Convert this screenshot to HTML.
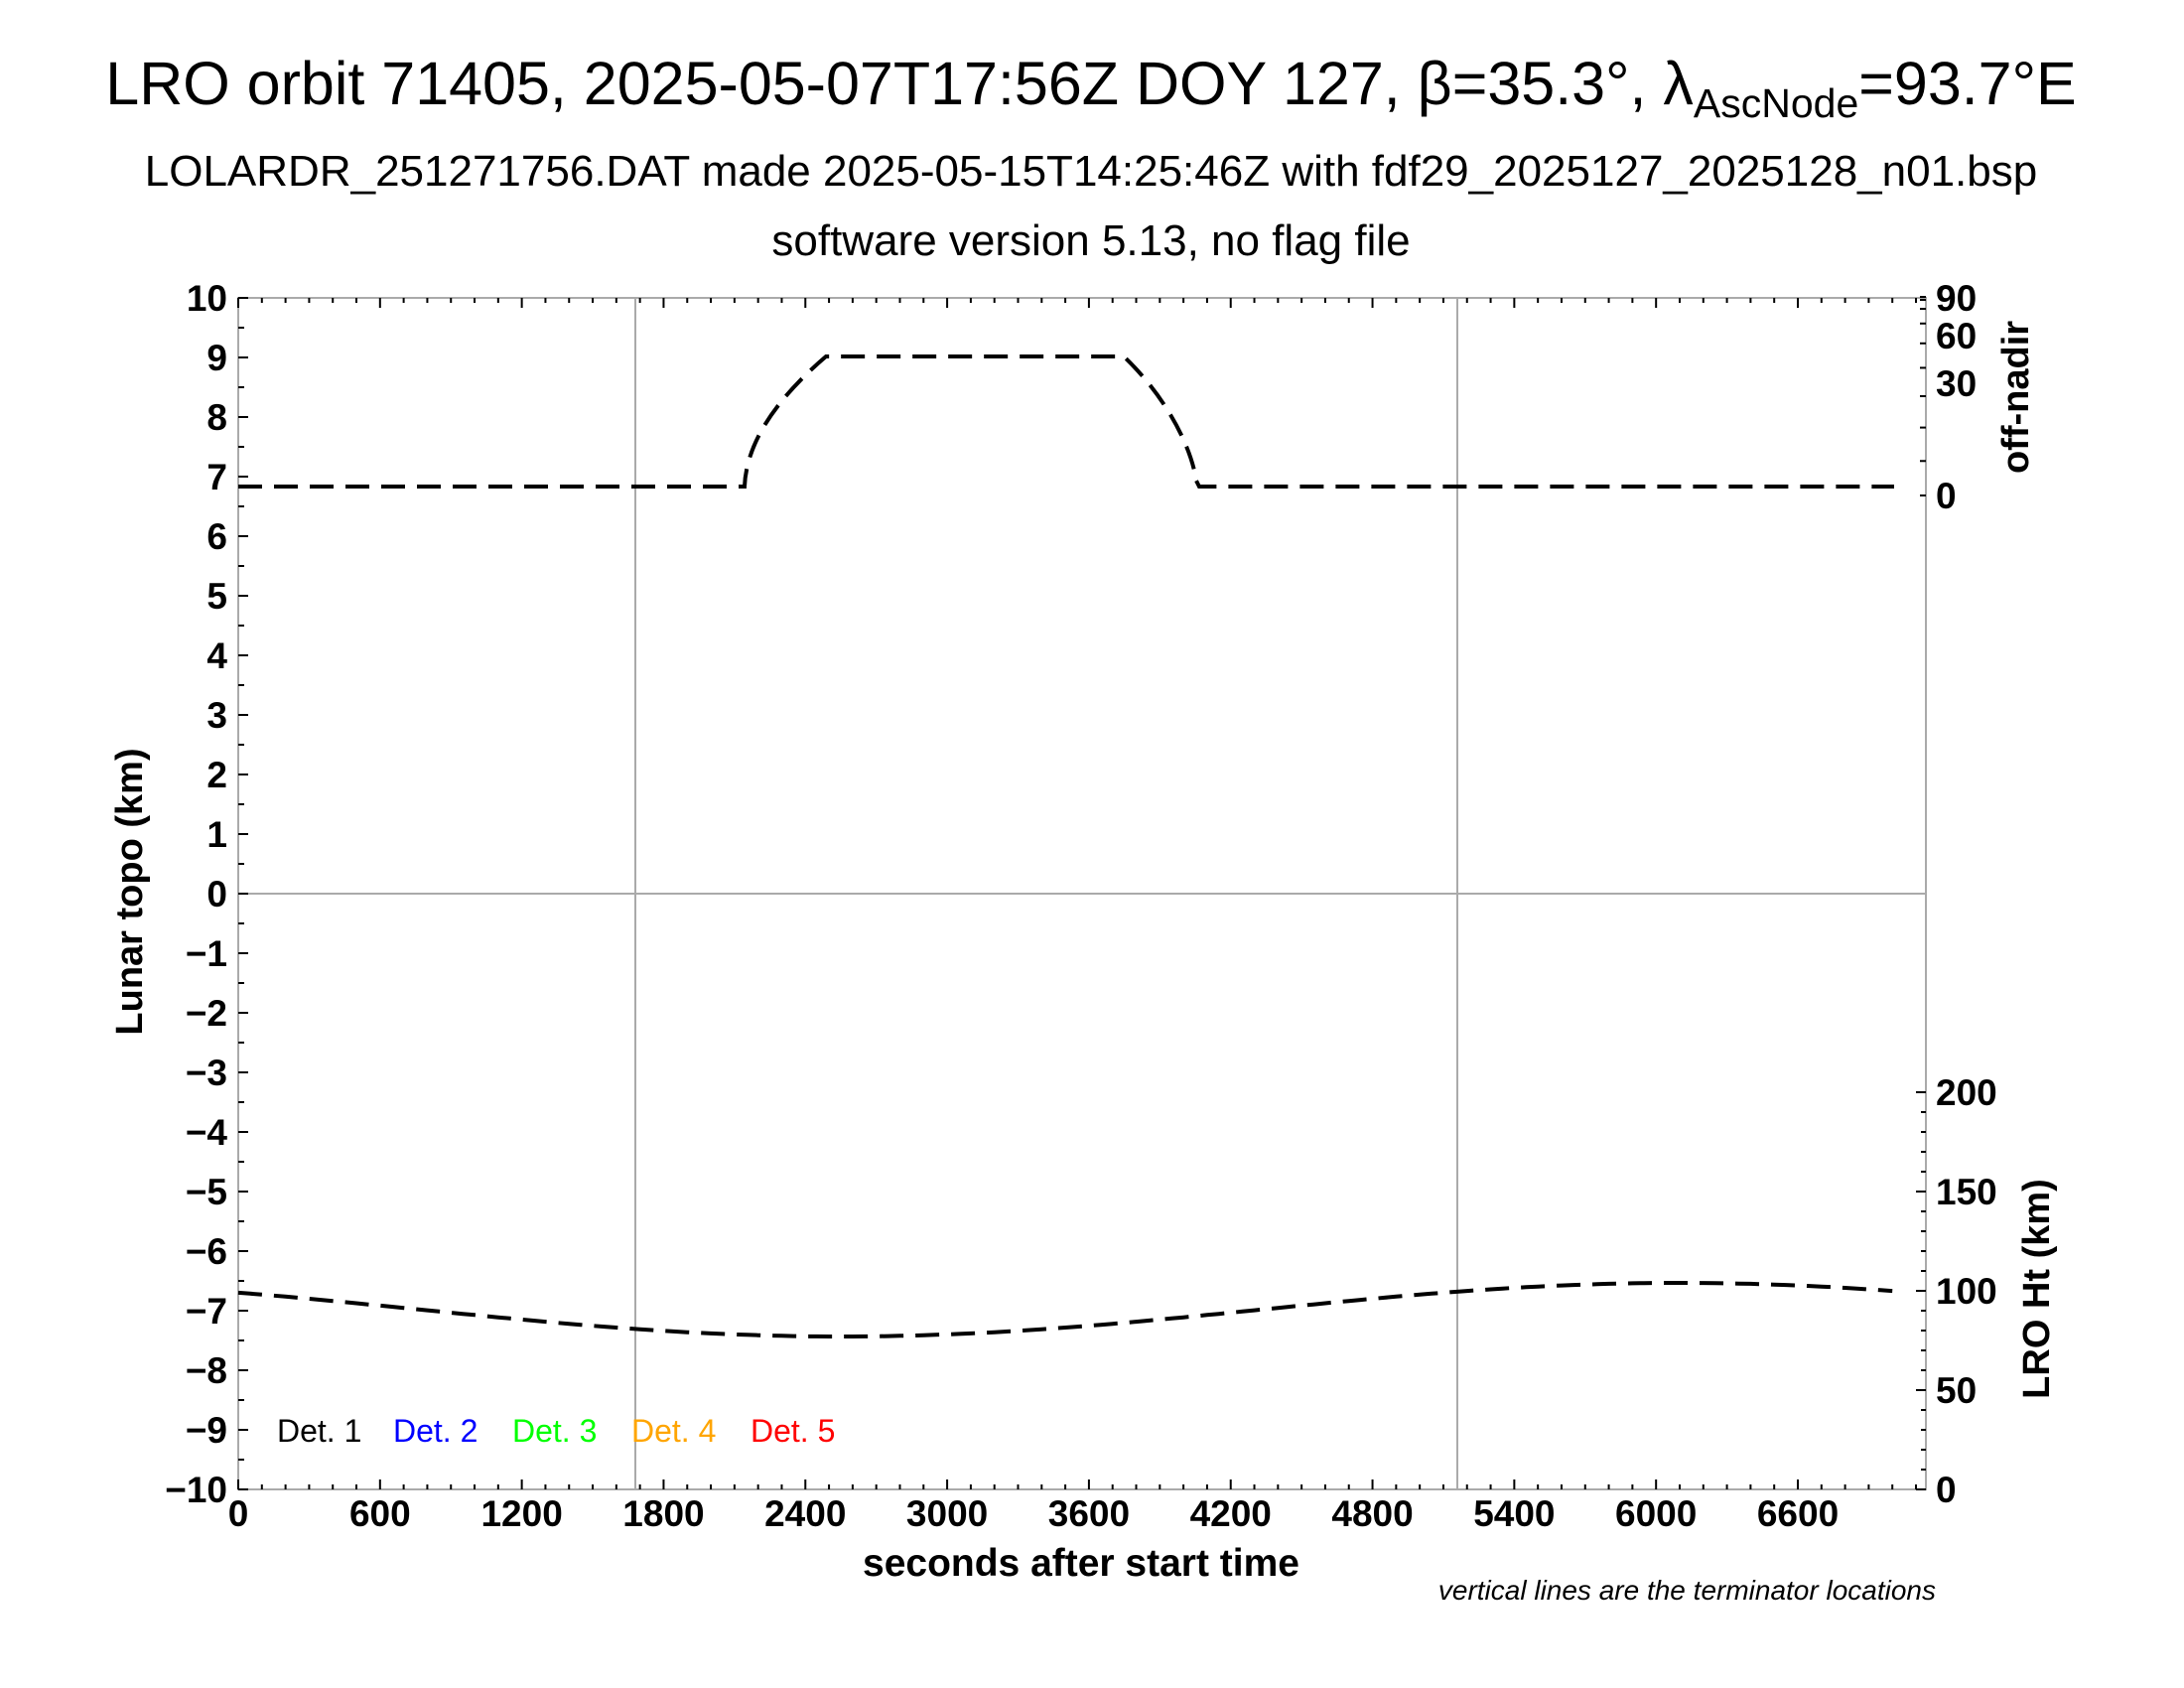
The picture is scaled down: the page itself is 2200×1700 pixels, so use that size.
<!DOCTYPE html>
<html><head><meta charset="utf-8"><style>
html,body{margin:0;padding:0;background:#fff}
svg{display:block}
text{font-family:"Liberation Sans",sans-serif}
</style></head><body>
<svg width="2200" height="1700" viewBox="0 0 2200 1700" xmlns="http://www.w3.org/2000/svg">
<rect width="2200" height="1700" fill="#fff"/>
<text x="1099" y="105" font-size="61" text-anchor="middle">LRO orbit 71405, 2025-05-07T17:56Z DOY 127, β=35.3°, λ<tspan font-size="41" dy="13">AscNode</tspan><tspan dy="-13">=93.7°E</tspan></text>
<text x="1099" y="187" font-size="44" text-anchor="middle">LOLARDR_251271756.DAT made 2025-05-15T14:25:46Z with fdf29_2025127_2025128_n01.bsp</text>
<text x="1099" y="257" font-size="44" text-anchor="middle">software version 5.13, no flag file</text>
<g stroke="#aaa" stroke-width="2" fill="none">
<rect x="240" y="300" width="1700" height="1200"/>
<line x1="640" y1="300" x2="640" y2="1500"/>
<line x1="1468" y1="300" x2="1468" y2="1500"/>
<line x1="240" y1="900" x2="1940" y2="900"/>
</g>
<g id="ticks" stroke="#000" stroke-width="2"></g>
<g font-size="37" font-weight="bold" text-anchor="end" id="ylab"></g>
<g font-size="37" font-weight="bold" text-anchor="middle" id="xlab"></g>
<g font-size="37" font-weight="bold" text-anchor="start">
<text x="1950" y="313">90</text><text x="1950" y="351">60</text><text x="1950" y="399">30</text><text x="1950" y="512">0</text>
<text x="1950" y="1113">200</text><text x="1950" y="1213">150</text><text x="1950" y="1313">100</text><text x="1950" y="1413">50</text><text x="1950" y="1513">0</text>
</g>
<text transform="translate(143,898) rotate(-90)" font-size="38" font-weight="bold" text-anchor="middle">Lunar topo (km)</text>
<text transform="translate(2043,400) rotate(-90)" font-size="38" font-weight="bold" text-anchor="middle">off-nadir</text>
<text transform="translate(2064,1298) rotate(-90)" font-size="38" font-weight="bold" text-anchor="middle">LRO Ht (km)</text>
<text x="1089" y="1587" font-size="39" font-weight="bold" text-anchor="middle">seconds after start time</text>
<text x="1950" y="1611" font-size="28" font-style="italic" text-anchor="end">vertical lines are the terminator locations</text>
<g font-size="32">
<text x="279" y="1452" fill="#000">Det. 1</text>
<text x="396" y="1452" fill="#0000ff">Det. 2</text>
<text x="516" y="1452" fill="#00ff00">Det. 3</text>
<text x="636" y="1452" fill="#ffa500">Det. 4</text>
<text x="756" y="1452" fill="#ff0000">Det. 5</text>
</g>
<path fill="none" stroke="#000" stroke-width="4" stroke-dasharray="24,12"
d="M240,490 L750,490 C752,440 790,395 832,359 L1132,359 C1175,400 1200,450 1205,484 L1208,490 L1908,490"/>
<path id="ht" fill="none" stroke="#000" stroke-width="4" stroke-dasharray="24,12" d=""/>
</svg>
<script>
(function(){
var NS="http://www.w3.org/2000/svg";
function el(t,a,p){var e=document.createElementNS(NS,t);for(var k in a)e.setAttribute(k,a[k]);if(p)p.appendChild(e);return e;}
var tk=document.getElementById("ticks");
var sx=(1811-240)/6600;
for(var v=-10;v<=10;v+=0.5){var y=900-v*60;var L=(v%1===0)?10:6;el("line",{x1:240,y1:y,x2:240+L,y2:y},tk);}
for(var s=0;s<=7142;s+=100){var x=240+s*sx;var L=(s%600===0)?10:5;el("line",{x1:x,y1:1500,x2:x,y2:1500-L},tk);el("line",{x1:x,y1:300,x2:x,y2:300+L},tk);}
for(var h=0;h<=200;h+=10){var y=1500-h*2;var L=(h%50===0)?10:5;el("line",{x1:1940,y1:y,x2:1940-L,y2:y},tk);}
[0,10,20,30,40,50,60,70,80,90].forEach(function(a){var y=499-(499-299)*Math.sin(a*Math.PI/180);el("line",{x1:1940,y1:y,x2:1934,y2:y},tk);});
var yl=document.getElementById("ylab");
for(var v=-10;v<=10;v++){var t=el("text",{x:229,y:900-v*60+13},yl);t.textContent=(v<0?"\u2212"+(-v):""+v);}
var xl=document.getElementById("xlab");
for(var s=0;s<=6600;s+=600){var t=el("text",{x:240+s*sx,y:1537},xl);t.textContent=""+s;}
var d="";
for(var s=0;s<=7000;s+=50){var h=90.5+13.5*Math.cos(2*Math.PI*(s-6100)/7100);d+=(s?"L":"M")+(240+s*sx).toFixed(1)+","+(1500-h*2).toFixed(1);}
document.getElementById("ht").setAttribute("d",d);
})();
</script>
</body></html>
